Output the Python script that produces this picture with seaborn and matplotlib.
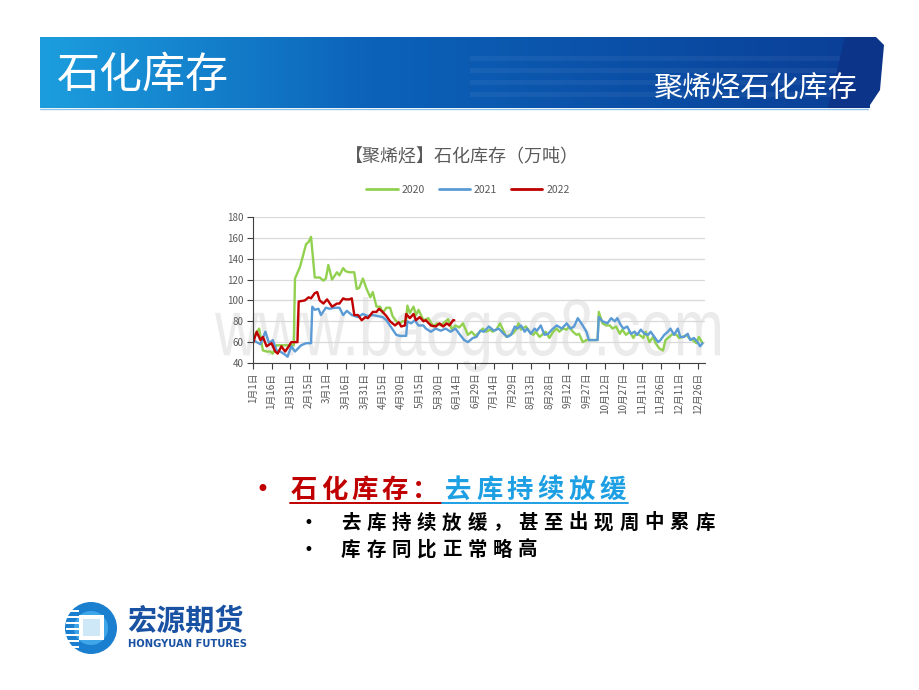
import pandas as pd
import numpy as np
import matplotlib
matplotlib.use("Agg")
import matplotlib.pyplot as plt
import seaborn as sns
from matplotlib.lines import Line2D
from matplotlib.patches import Rectangle, Circle, Polygon, PathPatch
from matplotlib.textpath import TextPath
from matplotlib.font_manager import FontProperties
from matplotlib.transforms import Affine2D

sns.set_theme(style="white")
plt.rcParams['font.family'] = ['Noto Sans CJK SC', 'DejaVu Sans']
plt.rcParams['axes.unicode_minus'] = False

# 聚烯烃石化库存（万吨），横轴为日序号（以2020年日历为准）
years = ['2020', '2021', '2022']
line_colors = {'2020': '#92D050', '2021': '#5B9BD5', '2022': '#C00000'}

day_2020 = [0, 2, 5, 8, 11, 14, 16, 19, 25, 30, 33, 34, 38, 41, 43, 45, 47, 50, 54, 57,
            59, 61, 64, 68, 70, 73, 75, 78, 82, 84, 86, 89, 92, 95, 97, 100, 103, 105, 108, 111,
            113, 116, 119, 121, 124, 125, 127, 130, 132, 134, 138, 142, 146, 149, 152, 155, 158, 161, 164, 167,
            170, 174, 177, 180, 183, 186, 189, 192, 194, 197, 200, 202, 205, 208, 210, 213, 215, 217, 221, 224,
            227, 229, 232, 235, 237, 240, 243, 246, 248, 251, 254, 256, 259, 262, 264, 267, 270, 279, 280, 283,
            286, 289, 291, 294, 297, 299, 302, 305, 308, 310, 313, 316, 318, 321, 324, 326, 329, 332, 334, 337,
            340, 343, 345, 348, 351, 353, 356, 359, 361, 364]
inv_2020 = [65, 68, 73, 52, 51, 51, 49, 57, 57, 57, 57, 121, 132, 145, 154, 156, 161, 122, 122, 119,
            121, 134, 120, 127, 124, 131, 128, 127, 127, 111, 112, 121, 111, 103, 108, 94, 94, 88, 93, 93,
            85, 80, 78, 80, 80, 95, 88, 94, 86, 91, 81, 83, 75, 78, 76, 79, 82, 72, 76, 74,
            78, 67, 70, 66, 69, 73, 70, 72, 70, 72, 78, 73, 65, 67, 68, 72, 78, 72, 75, 70,
            67, 70, 65, 68, 70, 64, 70, 73, 70, 73, 72, 75, 70, 67, 68, 60, 62, 62, 89, 78,
            76, 76, 73, 75, 68, 72, 67, 70, 64, 68, 67, 64, 70, 60, 65, 59, 54, 52, 62, 65,
            68, 67, 64, 65, 67, 64, 62, 59, 65, 59]

day_2021 = [0, 3, 6, 10, 13, 16, 19, 22, 26, 28, 31, 34, 39, 43, 47, 48, 50, 53, 55, 59,
            62, 66, 70, 73, 76, 80, 85, 89, 93, 97, 101, 105, 108, 112, 116, 119, 122, 124, 125, 128,
            131, 134, 138, 140, 144, 148, 152, 156, 160, 164, 167, 171, 174, 178, 181, 184, 187, 191, 195, 199,
            203, 206, 209, 212, 214, 217, 220, 222, 225, 228, 230, 233, 236, 239, 242, 246, 250, 254, 257, 260,
            263, 267, 270, 272, 279, 280, 283, 287, 290, 293, 295, 298, 300, 303, 306, 309, 311, 314, 317, 320,
            322, 325, 328, 330, 333, 336, 338, 341, 344, 346, 349, 352, 354, 357, 360, 362, 364]
inv_2021 = [62, 60, 58, 70, 59, 62, 52, 51, 48, 46, 56, 51, 57, 59, 59, 94, 91, 92, 86, 93,
            92, 93, 93, 86, 90, 86, 84, 87, 85, 86, 85, 84, 81, 74, 67, 66, 66, 66, 80, 78,
            81, 76, 76, 73, 70, 73, 71, 73, 70, 73, 68, 62, 60, 64, 65, 71, 70, 75, 71, 73,
            68, 65, 67, 75, 73, 76, 70, 73, 68, 73, 71, 76, 67, 68, 72, 76, 73, 78, 73, 75,
            83, 76, 70, 62, 62, 84, 80, 78, 83, 80, 83, 76, 73, 75, 68, 70, 67, 72, 68, 67,
            70, 65, 60, 62, 67, 70, 73, 67, 73, 65, 65, 68, 62, 64, 60, 56, 59]

day_2022 = [0, 3, 6, 8, 11, 15, 18, 20, 23, 26, 29, 31, 36, 37, 42, 45, 47, 50, 52, 54,
            57, 60, 64, 68, 70, 73, 75, 78, 80, 82, 85, 88, 91, 93, 97, 100, 102, 105, 108, 111,
            115, 118, 120, 123, 124, 127, 130, 132, 135, 138, 140, 144, 148, 151, 154, 157, 159, 162, 163]
inv_2022 = [59, 70, 62, 65, 56, 59, 51, 49, 56, 51, 56, 60, 60, 99, 100, 103, 102, 107, 108, 100,
            97, 101, 94, 97, 97, 102, 101, 101, 102, 86, 86, 81, 84, 83, 89, 89, 92, 89, 85, 80,
            76, 79, 75, 76, 87, 83, 87, 81, 84, 80, 81, 76, 75, 78, 75, 78, 76, 81, 81]

tick_dates = pd.date_range('2020-01-01', periods=25, freq='15D')
tick_labels = [f"{d.month}月{d.day}日" for d in tick_dates]
tick_days = [(d - tick_dates[0]).days for d in tick_dates]

df = pd.concat([
    pd.DataFrame({'day': day_2020, 'inv': inv_2020, 'year': '2020'}),
    pd.DataFrame({'day': day_2021, 'inv': inv_2021, 'year': '2021'}),
    pd.DataFrame({'day': day_2022, 'inv': inv_2022, 'year': '2022'}),
], ignore_index=True)

fig = plt.figure(figsize=(9.2, 6.9), dpi=100)

# page layer in pixel coordinates
bg = fig.add_axes([0, 0, 1, 1], zorder=0)
bg.set_xlim(0, 920)
bg.set_ylim(690, 0)
bg.axis('off')

# header bar with gradient
pos = np.linspace(0, 1, 400)
r = np.interp(pos, [0, 0.4, 1], [28, 12, 10])
g = np.interp(pos, [0, 0.4, 1], [158, 98, 62])
b = np.interp(pos, [0, 0.4, 1], [222, 185, 150])
grad = np.dstack([r, g, b])[None, 0, :, :] / 255.0
grad = np.repeat(grad, 2, axis=0)
bg.imshow(grad, extent=[40, 870, 108, 37], aspect='auto', zorder=1)
for yy in [56, 68, 80, 92]:
    bg.add_patch(Rectangle((470, yy), 385, 5, color='white', alpha=0.05, lw=0, zorder=2))
bg.add_patch(Polygon([(845, 37), (876, 37), (884, 45), (880, 90), (868, 108), (828, 108)],
                     closed=True, color='#0c3488', lw=0, zorder=2))
bg.plot([40, 868], [108.5, 108.5], color='#8fc3e8', lw=1, zorder=2)
bg.text(57, 76, '石化库存', color='white', fontsize=31, fontweight=300,
        ha='left', va='center', zorder=3)
bg.text(857, 90, '聚烯烃石化库存', color='white', fontsize=21, fontweight='medium',
        ha='right', va='center', zorder=3)

# faint watermark
tp = TextPath((0, 0), 'www.baogao8.com', size=1, prop=FontProperties(family='Liberation Sans'))
ext = tp.get_extents()
sx = 505 / ext.width
sy = 75 / ext.height
tr = Affine2D().translate(-ext.x0, -ext.y0).scale(sx, -sy).translate(215, 372)
bg.add_patch(PathPatch(tr.transform_path(tp), facecolor='#ebebeb', edgecolor='none', zorder=3))

# chart
ax = fig.add_axes([253 / 920, 1 - 363 / 690, 452 / 920, 146 / 690], zorder=1)
ax.set_facecolor('none')
sns.lineplot(data=df, x='day', y='inv', hue='year', hue_order=years, palette=line_colors,
             estimator=None, sort=False, linewidth=1.7, legend=False, ax=ax)
ax.set_xlim(0, 366)
ax.set_ylim(40, 180)
ax.set_yticks(range(40, 181, 20))
ax.set_xticks(tick_days)
ax.set_xticklabels(tick_labels, rotation=90, ha='center', va='top')
ax.set_xlabel('')
ax.set_ylabel('')
ax.yaxis.grid(True, color='#d9d9d9', lw=0.9)
ax.xaxis.grid(False)
ax.set_axisbelow(True)
for side in ['top', 'right']:
    ax.spines[side].set_visible(False)
for side in ['left', 'bottom']:
    ax.spines[side].set_color('#404040')
    ax.spines[side].set_linewidth(0.8)
ax.tick_params(axis='both', bottom=True, left=True, direction='out', length=4, width=0.8,
               color='#404040', labelsize=7, labelcolor='#595959', pad=3)

bg.text(462, 157, '【聚烯烃】石化库存（万吨）', fontsize=13, color='#595959',
        ha='center', va='center')
handles = [Line2D([0], [0], color=line_colors[y], lw=2) for y in years]
ax.legend(handles, years, ncol=3, loc='center', frameon=False, fontsize=7.5,
          labelcolor='#595959', handlelength=3.0, handletextpad=0.4, columnspacing=1.3,
          bbox_to_anchor=(468 / 920, 1 - 190 / 690), bbox_transform=fig.transFigure)

# bullet text
def spaced_text(x, y, s, step, **kw):
    for i, ch in enumerate(s):
        bg.text(x + step * (i + 0.5), y, ch, ha='center', va='center', **kw)

bg.text(262, 490, '•', color='#C00000', fontsize=17, family='DejaVu Sans',
        ha='center', va='center')
spaced_text(289, 490, '石化库存：', 30.2, color='#C00000', fontsize=19, fontweight='bold')
spaced_text(443, 490, '去库持续放缓', 30.8, color='#1D9FE3', fontsize=19, fontweight='bold')
bg.plot([290, 442], [503, 503], color='#C00000', lw=1.4)
bg.plot([442, 628], [503, 503], color='#1D9FE3', lw=1.4)

bg.text(308, 523, '•', color='black', fontsize=12, family='DejaVu Sans', ha='center', va='center')
bg.text(308, 550, '•', color='black', fontsize=12, family='DejaVu Sans', ha='center', va='center')
spaced_text(338, 523, '去库持续放缓，甚至出现周中累库', 25.3, color='black',
            fontsize=14, fontweight='bold')
spaced_text(338, 550, '库存同比正常略高', 25.3, color='black', fontsize=14, fontweight='bold')

# logo
bg.add_patch(Circle((91, 628), 26, color='#1b7fd0', lw=0, zorder=2))
bg.add_patch(Circle((91, 628), 17, color='#3fa6ea', lw=0, zorder=2))
for yy in [610, 616, 622, 628, 634, 640, 646]:
    bg.add_patch(Rectangle((66, yy), 13, 1.8, color='white', lw=0, zorder=3))
bg.add_patch(Rectangle((79, 615), 25, 25, color='white', lw=0, zorder=3))
bg.add_patch(Rectangle((83, 619), 17, 17, color='#cfe8f8', lw=0, zorder=4))
bg.text(127, 621, '宏源期货', color='#1a52a3', fontsize=21, fontweight='heavy',
        ha='left', va='center')
bg.text(128, 644, 'HONGYUAN FUTURES', color='#1a52a3', fontsize=7.2, fontweight='bold',
        family='DejaVu Sans', ha='left', va='center')

fig.savefig('out.png', dpi=100)
